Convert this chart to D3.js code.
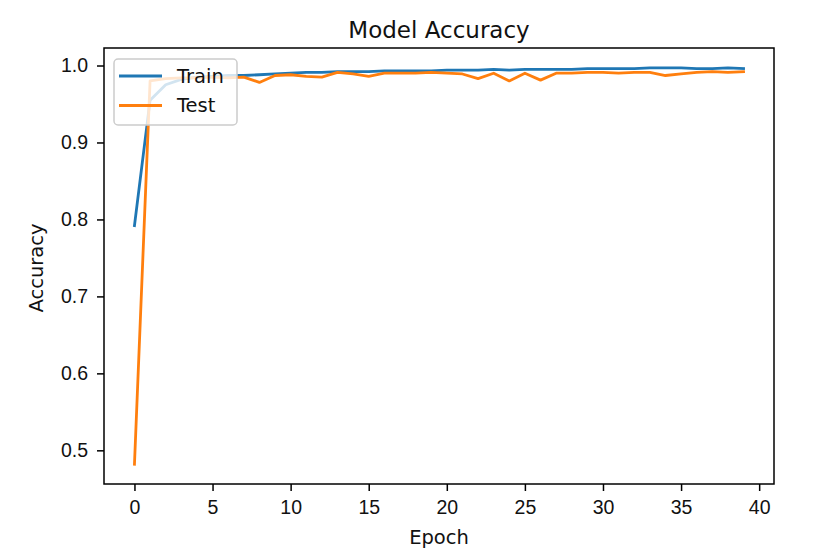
<!DOCTYPE html>
<html>
<head>
<meta charset="utf-8">
<script src="https://cdn.jsdelivr.net/npm/d3@7"></script>
<style>
  body { margin: 0; background: #fff; }
  svg { font-family: "DejaVu Sans", sans-serif; }
</style>
</head>
<body>
<div id="chart"></div>
<script>
// accuracy per epoch
var trainAcc = [0.792, 0.955, 0.975, 0.982, 0.985, 0.986, 0.987, 0.987, 0.988, 0.989,
                0.990, 0.991, 0.991, 0.992, 0.992, 0.992, 0.993, 0.993, 0.993, 0.993,
                0.994, 0.994, 0.994, 0.995, 0.994, 0.995, 0.995, 0.995, 0.995, 0.996,
                0.996, 0.996, 0.996, 0.997, 0.997, 0.997, 0.996, 0.996, 0.997, 0.996];
var testAcc = [0.482, 0.980, 0.983, 0.984, 0.984, 0.985, 0.984, 0.985, 0.978, 0.987,
               0.988, 0.986, 0.985, 0.991, 0.989, 0.986, 0.990, 0.990, 0.990, 0.991,
               0.990, 0.989, 0.983, 0.990, 0.980, 0.990, 0.981, 0.990, 0.990, 0.991,
               0.991, 0.990, 0.991, 0.991, 0.987, 0.989, 0.991, 0.992, 0.991, 0.992];
var xTicks = [0, 5, 10, 15, 20, 25, 30, 35, 40];
var yTicks = [0.5, 0.6, 0.7, 0.8, 0.9, 1.0];
var seriesNames = ["Train", "Test"];
var colors = ["#1f77b4", "#ff7f0e"];

var fullWidth = 818;
var fullHeight = 560;
var margin = {top: 48, right: 44, bottom: 76, left: 104};
var width = fullWidth - margin.left - margin.right;
var height = fullHeight - margin.top - margin.bottom;
var fontSize = '19.5px';
var textColor = '#111';

var series = [trainAcc, testAcc].map(function(vals, k) {
    return {name: seriesNames[k], color: colors[k],
            values: vals.map(function(v, i) { return {epoch: i, acc: v}; })};
});

// matplotlib style 5% padding around the data
var n = trainAcc.length;
var xPad = (n - 1) * 0.05;
var allVals = trainAcc.concat(testAcc);
var yMin = d3.min(allVals), yMax = d3.max(allVals);
var yPad = (yMax - yMin) * 0.05;

var xScale = d3.scaleLinear()
    .domain([-xPad, n - 1 + xPad])
    .range([0, width]);
var yScale = d3.scaleLinear()
    .domain([yMin - yPad, yMax + yPad])
    .range([height, 0]);

var svg = d3.select('#chart').append('svg')
    .attr('width', fullWidth)
    .attr('height', fullHeight);
var g = svg.append('g')
    .attr('transform', 'translate(' + margin.left + ',' + margin.top + ')');

// lines
var line = d3.line()
    .x(function(d) { return xScale(d.epoch); })
    .y(function(d) { return yScale(d.acc); });

var plot = g.append('g');
plot.selectAll('path.series')
    .data(series)
  .enter().append('path')
    .classed('series', true)
    .attr('d', function(d) { return line(d.values); })
    .attr('fill', 'none')
    .attr('stroke', function(d) { return d.color; })
    .attr('stroke-width', 2.8)
    .attr('stroke-linejoin', 'round')
    .attr('stroke-linecap', 'square');

// axes
var xAxis = d3.axisBottom(xScale).tickValues(xTicks).tickSize(7).tickPadding(9)
    .tickFormat(d3.format('d'));
var yAxis = d3.axisLeft(yScale).tickValues(yTicks).tickSize(7).tickPadding(9)
    .tickFormat(d3.format('.1f'));

var xAxisEle = g.append('g')
    .attr('transform', 'translate(0,' + height + ')')
    .call(xAxis);
var yAxisEle = g.append('g').call(yAxis);

[xAxisEle, yAxisEle].forEach(function(a) {
    a.select('.domain').remove();
    a.selectAll('.tick line').attr('stroke', '#000').attr('stroke-width', 1.5);
    a.selectAll('.tick text').style('font-size', fontSize).attr('fill', textColor);
});

// frame
g.append('rect')
    .attr('width', width)
    .attr('height', height)
    .attr('fill', 'none')
    .attr('stroke', '#000')
    .attr('stroke-width', 1.5);

// labels
svg.append('text')
    .attr('x', margin.left + width / 2)
    .attr('y', 38)
    .attr('text-anchor', 'middle')
    .style('font-size', '23px')
    .attr('fill', textColor)
    .text('Model Accuracy');

svg.append('text')
    .attr('x', margin.left + width / 2)
    .attr('y', 544)
    .attr('text-anchor', 'middle')
    .style('font-size', fontSize)
    .attr('fill', textColor)
    .text('Epoch');

svg.append('text')
    .attr('transform', 'translate(43,' + (margin.top + height / 2 + 2) + ')rotate(-90)')
    .attr('text-anchor', 'middle')
    .style('font-size', fontSize)
    .attr('fill', textColor)
    .text('Accuracy');

// legend, upper left
var legend = g.append('g').attr('transform', 'translate(10,11)');
legend.append('rect')
    .attr('width', 123)
    .attr('height', 66)
    .attr('rx', 4)
    .attr('fill', '#fff')
    .attr('fill-opacity', 0.8)
    .attr('stroke', '#cccccc')
    .attr('stroke-width', 1.5);

var items = legend.selectAll('g.item')
    .data(series)
  .enter().append('g')
    .classed('item', true)
    .attr('transform', function(d, i) { return 'translate(0,' + (17 + i * 29.5) + ')'; });
items.append('line')
    .attr('x1', 5).attr('x2', 48)
    .attr('stroke', function(d) { return d.color; })
    .attr('stroke-width', 2.8);
items.append('text')
    .attr('x', 63)
    .attr('dy', '0.35em')
    .style('font-size', fontSize)
    .attr('fill', textColor)
    .text(function(d) { return d.name; });
</script>
</body>
</html>
